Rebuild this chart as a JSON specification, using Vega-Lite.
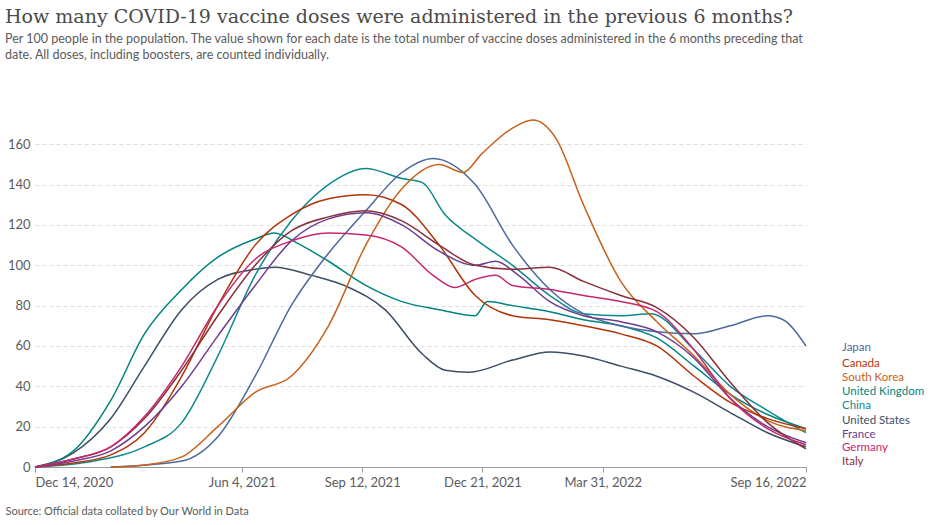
{
  "$schema": "https://vega.github.io/schema/vega-lite/v6.json",
  "autosize": "none",
  "width": 771,
  "height": 353,
  "padding": {"left": 35, "top": 114, "right": 127, "bottom": 58},
  "background": "white",
  "title": {
    "text": "How many COVID-19 vaccine doses were administered in the previous 6 months?",
    "subtitle": ["Per 100 people in the population. The value shown for each date is the total number of vaccine doses administered in the 6 months preceding that", "date. All doses, including boosters, are counted individually."],
    "anchor": "start", "frame": "group", "dx": -30, "offset": 53,
    "font": "DejaVu Serif", "fontSize": 19, "fontWeight": "normal", "color": "#4a4a4a",
    "subtitleFont": "Lato", "subtitleFontSize": 12.5, "subtitleColor": "#5b5b5b", "subtitlePadding": 6, "subtitleLineHeight": 16
  },
  "config": {"view": {"stroke": null}, "font": "Lato"},
  "datasets": {
    "labels": [
      {"c": "Japan", "ly": 59}, {"c": "Canada", "ly": 51}, {"c": "South Korea", "ly": 44},
      {"c": "United Kingdom", "ly": 37}, {"c": "China", "ly": 30}, {"c": "United States", "ly": 23},
      {"c": "France", "ly": 16}, {"c": "Germany", "ly": 9.4}, {"c": "Italy", "ly": 2.5}
    ]
  },
  "data": {"values": [
    {"c":"United States","d":"2020-12-14","v":0},{"c":"United States","d":"2021-01-15","v":7},{"c":"United States","d":"2021-02-15","v":24},{"c":"United States","d":"2021-03-15","v":50},{"c":"United States","d":"2021-04-15","v":78},{"c":"United States","d":"2021-05-15","v":93},{"c":"United States","d":"2021-06-15","v":98},{"c":"United States","d":"2021-07-01","v":99},{"c":"United States","d":"2021-08-01","v":95},{"c":"United States","d":"2021-09-01","v":89},{"c":"United States","d":"2021-10-01","v":78},{"c":"United States","d":"2021-11-01","v":56},{"c":"United States","d":"2021-11-20","v":48},{"c":"United States","d":"2021-12-10","v":47},{"c":"United States","d":"2022-01-15","v":53},{"c":"United States","d":"2022-02-15","v":57},{"c":"United States","d":"2022-03-15","v":55},{"c":"United States","d":"2022-04-15","v":50},{"c":"United States","d":"2022-05-15","v":45},{"c":"United States","d":"2022-06-15","v":37},{"c":"United States","d":"2022-07-15","v":27},{"c":"United States","d":"2022-08-15","v":17},{"c":"United States","d":"2022-09-16","v":10},
    {"c":"United Kingdom","d":"2020-12-14","v":0},{"c":"United Kingdom","d":"2021-01-15","v":8},{"c":"United Kingdom","d":"2021-02-15","v":33},{"c":"United Kingdom","d":"2021-03-15","v":66},{"c":"United Kingdom","d":"2021-04-15","v":88},{"c":"United Kingdom","d":"2021-05-15","v":104},{"c":"United Kingdom","d":"2021-06-15","v":113},{"c":"United Kingdom","d":"2021-07-01","v":116},{"c":"United Kingdom","d":"2021-07-20","v":111},{"c":"United Kingdom","d":"2021-08-15","v":102},{"c":"United Kingdom","d":"2021-09-15","v":90},{"c":"United Kingdom","d":"2021-10-15","v":82},{"c":"United Kingdom","d":"2021-11-15","v":78},{"c":"United Kingdom","d":"2021-12-15","v":75},{"c":"United Kingdom","d":"2021-12-25","v":82},{"c":"United Kingdom","d":"2022-01-15","v":80},{"c":"United Kingdom","d":"2022-02-15","v":77},{"c":"United Kingdom","d":"2022-03-15","v":73},{"c":"United Kingdom","d":"2022-04-15","v":70},{"c":"United Kingdom","d":"2022-05-15","v":64},{"c":"United Kingdom","d":"2022-06-15","v":50},{"c":"United Kingdom","d":"2022-07-15","v":36},{"c":"United Kingdom","d":"2022-08-15","v":26},{"c":"United Kingdom","d":"2022-09-16","v":19},
    {"c":"China","d":"2020-12-14","v":0},{"c":"China","d":"2021-02-01","v":3},{"c":"China","d":"2021-03-15","v":10},{"c":"China","d":"2021-04-15","v":22},{"c":"China","d":"2021-05-15","v":55},{"c":"China","d":"2021-06-15","v":95},{"c":"China","d":"2021-07-15","v":122},{"c":"China","d":"2021-08-15","v":140},{"c":"China","d":"2021-09-15","v":148},{"c":"China","d":"2021-10-15","v":143},{"c":"China","d":"2021-11-01","v":141},{"c":"China","d":"2021-11-20","v":125},{"c":"China","d":"2021-12-15","v":113},{"c":"China","d":"2022-01-15","v":100},{"c":"China","d":"2022-02-15","v":85},{"c":"China","d":"2022-03-15","v":76},{"c":"China","d":"2022-04-15","v":75},{"c":"China","d":"2022-05-10","v":76},{"c":"China","d":"2022-06-15","v":58},{"c":"China","d":"2022-07-15","v":40},{"c":"China","d":"2022-08-15","v":28},{"c":"China","d":"2022-09-16","v":17},
    {"c":"Japan","d":"2021-02-15","v":0},{"c":"Japan","d":"2021-04-15","v":3},{"c":"Japan","d":"2021-05-15","v":15},{"c":"Japan","d":"2021-06-15","v":45},{"c":"Japan","d":"2021-07-15","v":80},{"c":"Japan","d":"2021-08-15","v":106},{"c":"Japan","d":"2021-09-15","v":127},{"c":"Japan","d":"2021-10-15","v":146},{"c":"Japan","d":"2021-11-10","v":153},{"c":"Japan","d":"2021-12-15","v":140},{"c":"Japan","d":"2022-01-15","v":110},{"c":"Japan","d":"2022-02-15","v":88},{"c":"Japan","d":"2022-03-15","v":76},{"c":"Japan","d":"2022-04-15","v":70},{"c":"Japan","d":"2022-05-15","v":67},{"c":"Japan","d":"2022-06-15","v":66},{"c":"Japan","d":"2022-07-15","v":70},{"c":"Japan","d":"2022-08-15","v":75},{"c":"Japan","d":"2022-08-28","v":73},{"c":"Japan","d":"2022-09-16","v":60},
    {"c":"South Korea","d":"2021-02-15","v":0},{"c":"South Korea","d":"2021-03-15","v":1},{"c":"South Korea","d":"2021-04-15","v":5},{"c":"South Korea","d":"2021-05-15","v":20},{"c":"South Korea","d":"2021-06-15","v":37},{"c":"South Korea","d":"2021-07-15","v":45},{"c":"South Korea","d":"2021-08-15","v":70},{"c":"South Korea","d":"2021-09-15","v":110},{"c":"South Korea","d":"2021-10-15","v":138},{"c":"South Korea","d":"2021-11-15","v":150},{"c":"South Korea","d":"2021-12-05","v":146},{"c":"South Korea","d":"2021-12-20","v":155},{"c":"South Korea","d":"2022-01-15","v":168},{"c":"South Korea","d":"2022-02-01","v":172},{"c":"South Korea","d":"2022-02-20","v":163},{"c":"South Korea","d":"2022-03-15","v":130},{"c":"South Korea","d":"2022-04-15","v":92},{"c":"South Korea","d":"2022-05-15","v":72},{"c":"South Korea","d":"2022-06-15","v":55},{"c":"South Korea","d":"2022-07-15","v":36},{"c":"South Korea","d":"2022-08-15","v":23},{"c":"South Korea","d":"2022-09-16","v":18},
    {"c":"Canada","d":"2020-12-14","v":0},{"c":"Canada","d":"2021-01-15","v":2},{"c":"Canada","d":"2021-02-15","v":6},{"c":"Canada","d":"2021-03-15","v":17},{"c":"Canada","d":"2021-04-15","v":45},{"c":"Canada","d":"2021-05-15","v":80},{"c":"Canada","d":"2021-06-15","v":110},{"c":"Canada","d":"2021-07-15","v":125},{"c":"Canada","d":"2021-08-15","v":133},{"c":"Canada","d":"2021-09-15","v":135},{"c":"Canada","d":"2021-10-15","v":130},{"c":"Canada","d":"2021-11-15","v":110},{"c":"Canada","d":"2021-12-15","v":85},{"c":"Canada","d":"2022-01-15","v":75},{"c":"Canada","d":"2022-02-15","v":73},{"c":"Canada","d":"2022-03-15","v":70},{"c":"Canada","d":"2022-04-15","v":66},{"c":"Canada","d":"2022-05-15","v":60},{"c":"Canada","d":"2022-06-15","v":45},{"c":"Canada","d":"2022-07-15","v":32},{"c":"Canada","d":"2022-08-15","v":24},{"c":"Canada","d":"2022-09-16","v":19},
    {"c":"France","d":"2020-12-14","v":0},{"c":"France","d":"2021-01-15","v":3},{"c":"France","d":"2021-02-15","v":8},{"c":"France","d":"2021-03-15","v":20},{"c":"France","d":"2021-04-15","v":40},{"c":"France","d":"2021-05-15","v":65},{"c":"France","d":"2021-06-15","v":90},{"c":"France","d":"2021-07-15","v":112},{"c":"France","d":"2021-08-15","v":123},{"c":"France","d":"2021-09-15","v":126},{"c":"France","d":"2021-10-15","v":120},{"c":"France","d":"2021-11-15","v":107},{"c":"France","d":"2021-12-15","v":100},{"c":"France","d":"2022-01-01","v":102},{"c":"France","d":"2022-01-20","v":95},{"c":"France","d":"2022-02-15","v":82},{"c":"France","d":"2022-03-15","v":75},{"c":"France","d":"2022-04-15","v":72},{"c":"France","d":"2022-05-15","v":67},{"c":"France","d":"2022-06-15","v":54},{"c":"France","d":"2022-07-15","v":34},{"c":"France","d":"2022-08-15","v":20},{"c":"France","d":"2022-09-16","v":12},
    {"c":"Italy","d":"2020-12-14","v":0},{"c":"Italy","d":"2021-01-15","v":4},{"c":"Italy","d":"2021-02-15","v":10},{"c":"Italy","d":"2021-03-15","v":24},{"c":"Italy","d":"2021-04-15","v":48},{"c":"Italy","d":"2021-05-15","v":75},{"c":"Italy","d":"2021-06-15","v":100},{"c":"Italy","d":"2021-07-15","v":117},{"c":"Italy","d":"2021-08-15","v":124},{"c":"Italy","d":"2021-09-15","v":127},{"c":"Italy","d":"2021-10-15","v":122},{"c":"Italy","d":"2021-11-15","v":110},{"c":"Italy","d":"2021-12-15","v":100},{"c":"Italy","d":"2022-01-15","v":98},{"c":"Italy","d":"2022-02-15","v":99},{"c":"Italy","d":"2022-03-15","v":92},{"c":"Italy","d":"2022-04-15","v":85},{"c":"Italy","d":"2022-05-15","v":79},{"c":"Italy","d":"2022-06-15","v":64},{"c":"Italy","d":"2022-07-15","v":42},{"c":"Italy","d":"2022-08-15","v":22},{"c":"Italy","d":"2022-09-16","v":9},
    {"c":"Germany","d":"2020-12-14","v":0},{"c":"Germany","d":"2021-01-15","v":4},{"c":"Germany","d":"2021-02-15","v":10},{"c":"Germany","d":"2021-03-15","v":25},{"c":"Germany","d":"2021-04-15","v":50},{"c":"Germany","d":"2021-05-15","v":80},{"c":"Germany","d":"2021-06-15","v":103},{"c":"Germany","d":"2021-07-15","v":112},{"c":"Germany","d":"2021-08-15","v":116},{"c":"Germany","d":"2021-09-15","v":115},{"c":"Germany","d":"2021-10-15","v":109},{"c":"Germany","d":"2021-11-10","v":95},{"c":"Germany","d":"2021-11-28","v":89},{"c":"Germany","d":"2021-12-15","v":93},{"c":"Germany","d":"2022-01-01","v":95},{"c":"Germany","d":"2022-01-15","v":90},{"c":"Germany","d":"2022-02-15","v":88},{"c":"Germany","d":"2022-03-15","v":85},{"c":"Germany","d":"2022-04-15","v":82},{"c":"Germany","d":"2022-05-15","v":77},{"c":"Germany","d":"2022-06-15","v":58},{"c":"Germany","d":"2022-07-15","v":34},{"c":"Germany","d":"2022-08-15","v":19},{"c":"Germany","d":"2022-09-16","v":11}
  ]},
  "layer": [
    {
      "mark": {"type": "line", "strokeWidth": 1.5, "interpolate": "monotone"},
      "encoding": {
        "x": {"field": "d", "type": "temporal",
          "scale": {"domain": ["2020-12-14", "2022-09-16"]},
          "axis": {"values": ["2020-12-14", "2021-06-04", "2021-09-12", "2021-12-21", "2022-03-31", "2022-09-16"],
            "format": "%b %-d, %Y", "labelFontSize": 13, "labelColor": "#5b5b5b", "domainColor": "#999", "tickColor": "#999", "grid": false,
            "labelPadding": 4, "labelFlush": true,
            "title": "Source: Official data collated by Our World in Data", "titleAnchor": "start", "titleAlign": "left", "titleX": -30, "titleY": 38,
            "titleFontSize": 11, "titleFontWeight": "normal", "titleColor": "#5b5b5b"}},
        "y": {"field": "v", "type": "quantitative", "scale": {"domain": [0, 175], "nice": false},
          "axis": {"values": [0, 20, 40, 60, 80, 100, 120, 140, 160], "title": null, "domain": false, "ticks": false,
            "labelFontSize": 13, "labelColor": "#5b5b5b", "labelPadding": 5, "gridDash": [4, 3], "gridColor": "#ddd"}},
        "color": {"field": "c", "type": "nominal", "legend": null,
          "scale": {"domain": ["Japan", "Canada", "South Korea", "United Kingdom", "China", "United States", "France", "Germany", "Italy"],
            "range": ["#4C6A9C", "#B13507", "#C8611A", "#00847E", "#0E8A8E", "#3C4E66", "#6D3E91", "#C4286F", "#883039"]}}
      }
    },
    {
      "data": {"name": "labels"},
      "mark": {"type": "text", "align": "left", "baseline": "middle", "dx": 36, "fontSize": 11.5},
      "encoding": {
        "x": {"datum": {"year": 2022, "month": 9, "date": 16}, "type": "temporal"},
        "y": {"field": "ly", "type": "quantitative"},
        "text": {"field": "c"},
        "color": {"field": "c", "type": "nominal", "legend": null}
      }
    }
  ]
}
